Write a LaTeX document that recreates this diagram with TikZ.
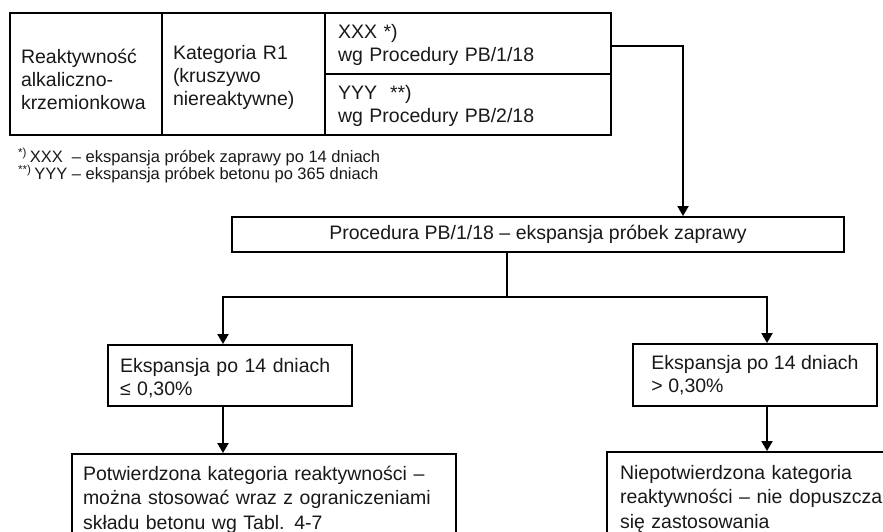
\documentclass[tikz,border=0pt]{standalone}
\usepackage{fontspec}
\setmainfont{Liberation Sans}
\usetikzlibrary{arrows.meta}
\hyphenpenalty=10000
\exhyphenpenalty=10000
\begin{document}
\begin{tikzpicture}[x=1pt,y=-1pt,
  every node/.style={inner sep=0pt, text=black!90},
  bigtext/.style={font=\fontsize{19.5}{23}\selectfont},
  cell/.style={draw, line width=1.9pt, inner xsep=11pt, inner ysep=0pt, align=left, bigtext},
  lower/.style={execute at begin node={\rule{0pt}{#1}}},
  fn/.style={font=\fontsize{16.5}{18}\selectfont},
  conn/.style={line width=1.9pt},
  arr/.style={conn, -{Triangle[width=11pt,length=10pt]}},
  ]
\useasboundingbox (0,0) rectangle (883,532);
\clip (0,0) rectangle (883,532);
\fill[white] (0,0) rectangle (883,532);

% top table
\node[cell, lower=26pt, text width=130pt, minimum height=122pt] (c1) at (86,74)
  {Reaktywność\\alkaliczno-\\krzemionkowa};
\node[cell, lower=22pt, text width=141pt, minimum height=122pt] (c2) at (243.5,74)
  {Kategoria R1\\(kruszywo\\niereaktywne)};
\node[cell, lower=18pt, inner xsep=13pt, text width=260pt, minimum height=61pt] (c3a) at (468,43.5)
  {XXX *)\\wg Procedury PB/1/18};
\node[cell, lower=18pt, inner xsep=13pt, text width=260pt, minimum height=61pt] (c3b) at (468,104.5)
  {YYY\ \ **)\\wg Procedury PB/2/18};

% footnotes
\node[fn, anchor=west] (f1) at (18,157) {\textsuperscript{*)}\,XXX\ \ – ekspansja próbek zaprawy po 14 dniach};
\node[fn, anchor=west] (f2) at (18,174) {\textsuperscript{**)}\,YYY – ekspansja próbek betonu po 365 dniach};

% procedure box
\node[cell, align=center, minimum width=612pt, minimum height=35pt, inner xsep=0pt] (proc) at (538,234.5)
  {Procedura PB/1/18 – ekspansja próbek zaprawy};

% expansion boxes
\node[cell, lower=20pt, inner xsep=12pt, text width=220pt, minimum height=61pt] (e1) at (230,375.5)
  {Ekspansja po 14 dniach\\≤ 0,30\%};
\node[cell, lower=20pt, inner xsep=0pt, minimum width=244pt, minimum height=62pt] (e2) at (755,375)
  {Ekspansja po 14 dniach\\> 0,30\%};

% result boxes
\node[cell, lower=19pt, inner xsep=11pt, text width=362pt, minimum height=87pt,
      font=\fontsize{19.5}{24.5}\selectfont] (b1) at (264,497.5)
  {Potwierdzona kategoria reaktywności –\\można stosować wraz z ograniczeniami\\składu betonu wg Tabl. 4-7};
\node[cell, lower=19pt, inner xsep=13pt, text width=270pt, minimum height=89pt,
      font=\fontsize{19.5}{24.5}\selectfont] (b2) at (755,496.5)
  {Niepotwierdzona kategoria\\reaktywności – nie dopuszcza\\się zastosowania};

% connectors
\coordinate (bend) at (683,46);
\draw[arr] (c3a.east |- bend) -- (bend) -- (bend |- proc.north);

\coordinate (jn) at (507,297);
\coordinate (jl) at (223,297);
\coordinate (jr) at (767,297);
\draw[conn] (proc.south -| jn) -- (jn);
\draw[arr] (jn) -- (jl) -- (jl |- e1.north);
\draw[arr] (jn) -- (jr) -- (jr |- e2.north);
\draw[arr] (e1.south -| jl) -- (jl |- b1.north);
\draw[arr] (e2.south -| jr) -- (jr |- b2.north);
\end{tikzpicture}
\end{document}
